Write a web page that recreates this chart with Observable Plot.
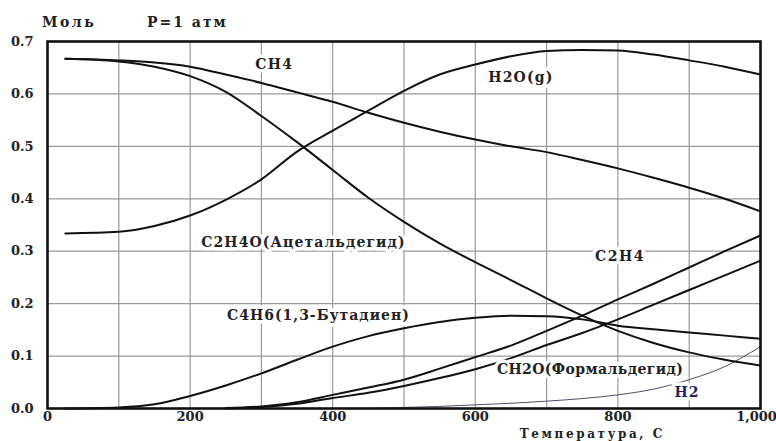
<!DOCTYPE html>
<html>
<head>
<meta charset="utf-8">
<script src="https://cdn.jsdelivr.net/npm/d3@7"></script>
<script src="https://cdn.jsdelivr.net/npm/@observablehq/plot@0.6"></script>
<style>
  html, body { margin: 0; padding: 0; background: white; }
</style>
</head>
<body>
<div id="chart"></div>
<script>
// Temperature grid (°C)
const T = [25, 100, 150, 200, 250, 300, 350, 400, 450, 500, 550, 600, 650, 700, 750, 800, 850, 900, 950, 1000];

// Mole amounts
const CH4   = [0.667, 0.664, 0.660, 0.652, 0.637, 0.621, 0.603, 0.585, 0.564, 0.545, 0.528, 0.513, 0.500, 0.489, 0.474, 0.458, 0.440, 0.421, 0.400, 0.376];
const C2H4O = [0.667, 0.662, 0.652, 0.634, 0.604, 0.558, 0.508, 0.455, 0.402, 0.356, 0.315, 0.279, 0.245, 0.210, 0.177, 0.148, 0.125, 0.107, 0.093, 0.082];
const H2O   = [0.334, 0.337, 0.348, 0.368, 0.398, 0.437, 0.490, 0.530, 0.568, 0.606, 0.637, 0.656, 0.672, 0.682, 0.684, 0.683, 0.675, 0.664, 0.652, 0.637];
const C4H6  = [0.000, 0.002, 0.008, 0.024, 0.044, 0.067, 0.093, 0.118, 0.138, 0.153, 0.165, 0.173, 0.177, 0.176, 0.170, 0.158, 0.151, 0.145, 0.139, 0.133];
const T_late = [250, 300, 350, 400, 450, 500, 550, 600, 650, 700, 750, 800, 850, 900, 950, 1000];
const C2H4  = [0.001, 0.004, 0.012, 0.026, 0.040, 0.055, 0.076, 0.098, 0.120, 0.148, 0.177, 0.208, 0.238, 0.269, 0.300, 0.330];
const CH2O  = [0.000, 0.003, 0.009, 0.020, 0.030, 0.043, 0.058, 0.075, 0.096, 0.121, 0.144, 0.170, 0.198, 0.226, 0.254, 0.282];
const T_h2 = [450, 500, 550, 600, 650, 700, 750, 800, 850, 900, 950, 1000];
const H2    = [0.000, 0.002, 0.004, 0.007, 0.010, 0.014, 0.019, 0.026, 0.037, 0.055, 0.080, 0.118];

// Curve labels (placed in data coordinates)
const labelText = ["CH4", "H2O(g)", "C2H4O(Ацетальдегид)", "C4H6(1,3-Бутадиен)", "C2H4", "CH2O(Формальдегид)", "H2"];
const labelT    = [318, 664, 359, 380, 803, 761, 897];
const labelV    = [0.656, 0.632, 0.317, 0.177, 0.290, 0.074, 0.030];

const unitLabel = "Моль";
const pressureLabel = "P=1 атм";
const xTitle = "Температура, С";

const xTicks = [0, 200, 400, 600, 800];
const xLastTick = [1000];
const yTicks = [0, 0.1, 0.2, 0.3, 0.4, 0.5, 0.6, 0.7];
const xGrid = [100, 200, 300, 400, 500, 600, 700, 800, 900];

const toRows = (xs, ys, name) => xs.map((t, i) => ({T: t, v: ys[i], s: name}));
const black = [
  ...toRows(T, CH4, "CH4"),
  ...toRows(T, C2H4O, "C2H4O"),
  ...toRows(T, H2O, "H2O"),
  ...toRows(T, C4H6, "C4H6"),
  ...toRows(T_late, C2H4, "C2H4"),
  ...toRows(T_late, CH2O, "CH2O")
];
const h2rows = toRows(T_h2, H2, "H2");
const labels = labelText.map((t, i) => ({text: t, T: labelT[i], v: labelV[i]}));

const font = "'DejaVu Serif', serif";
const ink = "#222";
const W = 776, H = 441, mL = 47, mR = 16, mT = 41, mB = 33;

const chart = Plot.plot({
  width: W,
  height: H,
  marginLeft: mL,
  marginRight: mR,
  marginTop: mT,
  marginBottom: mB,
  style: {fontFamily: font, fontWeight: "bold", fontSize: "13px", background: "white", color: ink},
  x: {domain: [0, 1000]},
  y: {domain: [0, 0.7]},
  marks: [
    Plot.gridX(xGrid, {stroke: "#9a9a9a", strokeOpacity: 1, strokeWidth: 1.2}),
    Plot.gridY(yTicks.slice(1, -1), {stroke: "#9a9a9a", strokeOpacity: 1, strokeWidth: 1.2}),
    Plot.axisX({ticks: xTicks, tickSize: 0, tickPadding: 3, label: null, fontSize: 13, fontWeight: "bold"}),
    Plot.axisX({ticks: xLastTick, tickSize: 0, tickPadding: 3, label: null, fontSize: 13, fontWeight: "bold", dx: -4}),
    Plot.axisY({ticks: yTicks, tickSize: 0, tickPadding: 14, tickFormat: ".1f", label: null, fontSize: 13, fontWeight: "bold"}),
    Plot.line(h2rows, {x: "T", y: "v", stroke: "#3a3a5a", strokeWidth: 0.9, curve: "monotone-x"}),
    Plot.line(black, {x: "T", y: "v", z: "s", stroke: "#111", strokeWidth: 2, curve: "monotone-x"}),
    Plot.text(labels, {x: "T", y: "v", text: "text", fontSize: 14, fontWeight: "bold",
      fill: d => d.text === "H2" ? "#22235e" : ink, stroke: "white", strokeWidth: 7, paintOrder: "stroke"}),
    Plot.frame({stroke: "#111", strokeWidth: 2.6})
  ]
});

// Header and axis title texts in the margins
const svg = d3.select(chart);
const addText = (txt, x, y, size, anchor) =>
  svg.append("text").attr("x", x).attr("y", y).attr("text-anchor", anchor)
    .attr("font-family", font).attr("font-weight", "bold").attr("font-size", size)
    .attr("fill", ink).text(txt);
addText(unitLabel, mL - 5, mT - 14, 14, "start");
addText(pressureLabel, mL + 100, mT - 14, 14, "start");
addText(xTitle, W - mR - 95, H - 3, 12, "end");

// Widen letter spacing to match the stretched look of the original
const spacing = {
  "CH4": 1.3, "H2O(g)": 1.2, "C2H4O(Ацетальдегид)": 1.1, "C4H6(1,3-Бутадиен)": 1.0,
  "C2H4": 1.5, "CH2O(Формальдегид)": 0.4, "H2": 1.0,
  [unitLabel]: 2.5, [pressureLabel]: 2.0, [xTitle]: 2.6
};
svg.selectAll("text").each(function () {
  const t = this.textContent;
  if (spacing[t] != null) this.style.letterSpacing = spacing[t] + "px";
});

document.getElementById("chart").appendChild(chart);
</script>
</body>
</html>
